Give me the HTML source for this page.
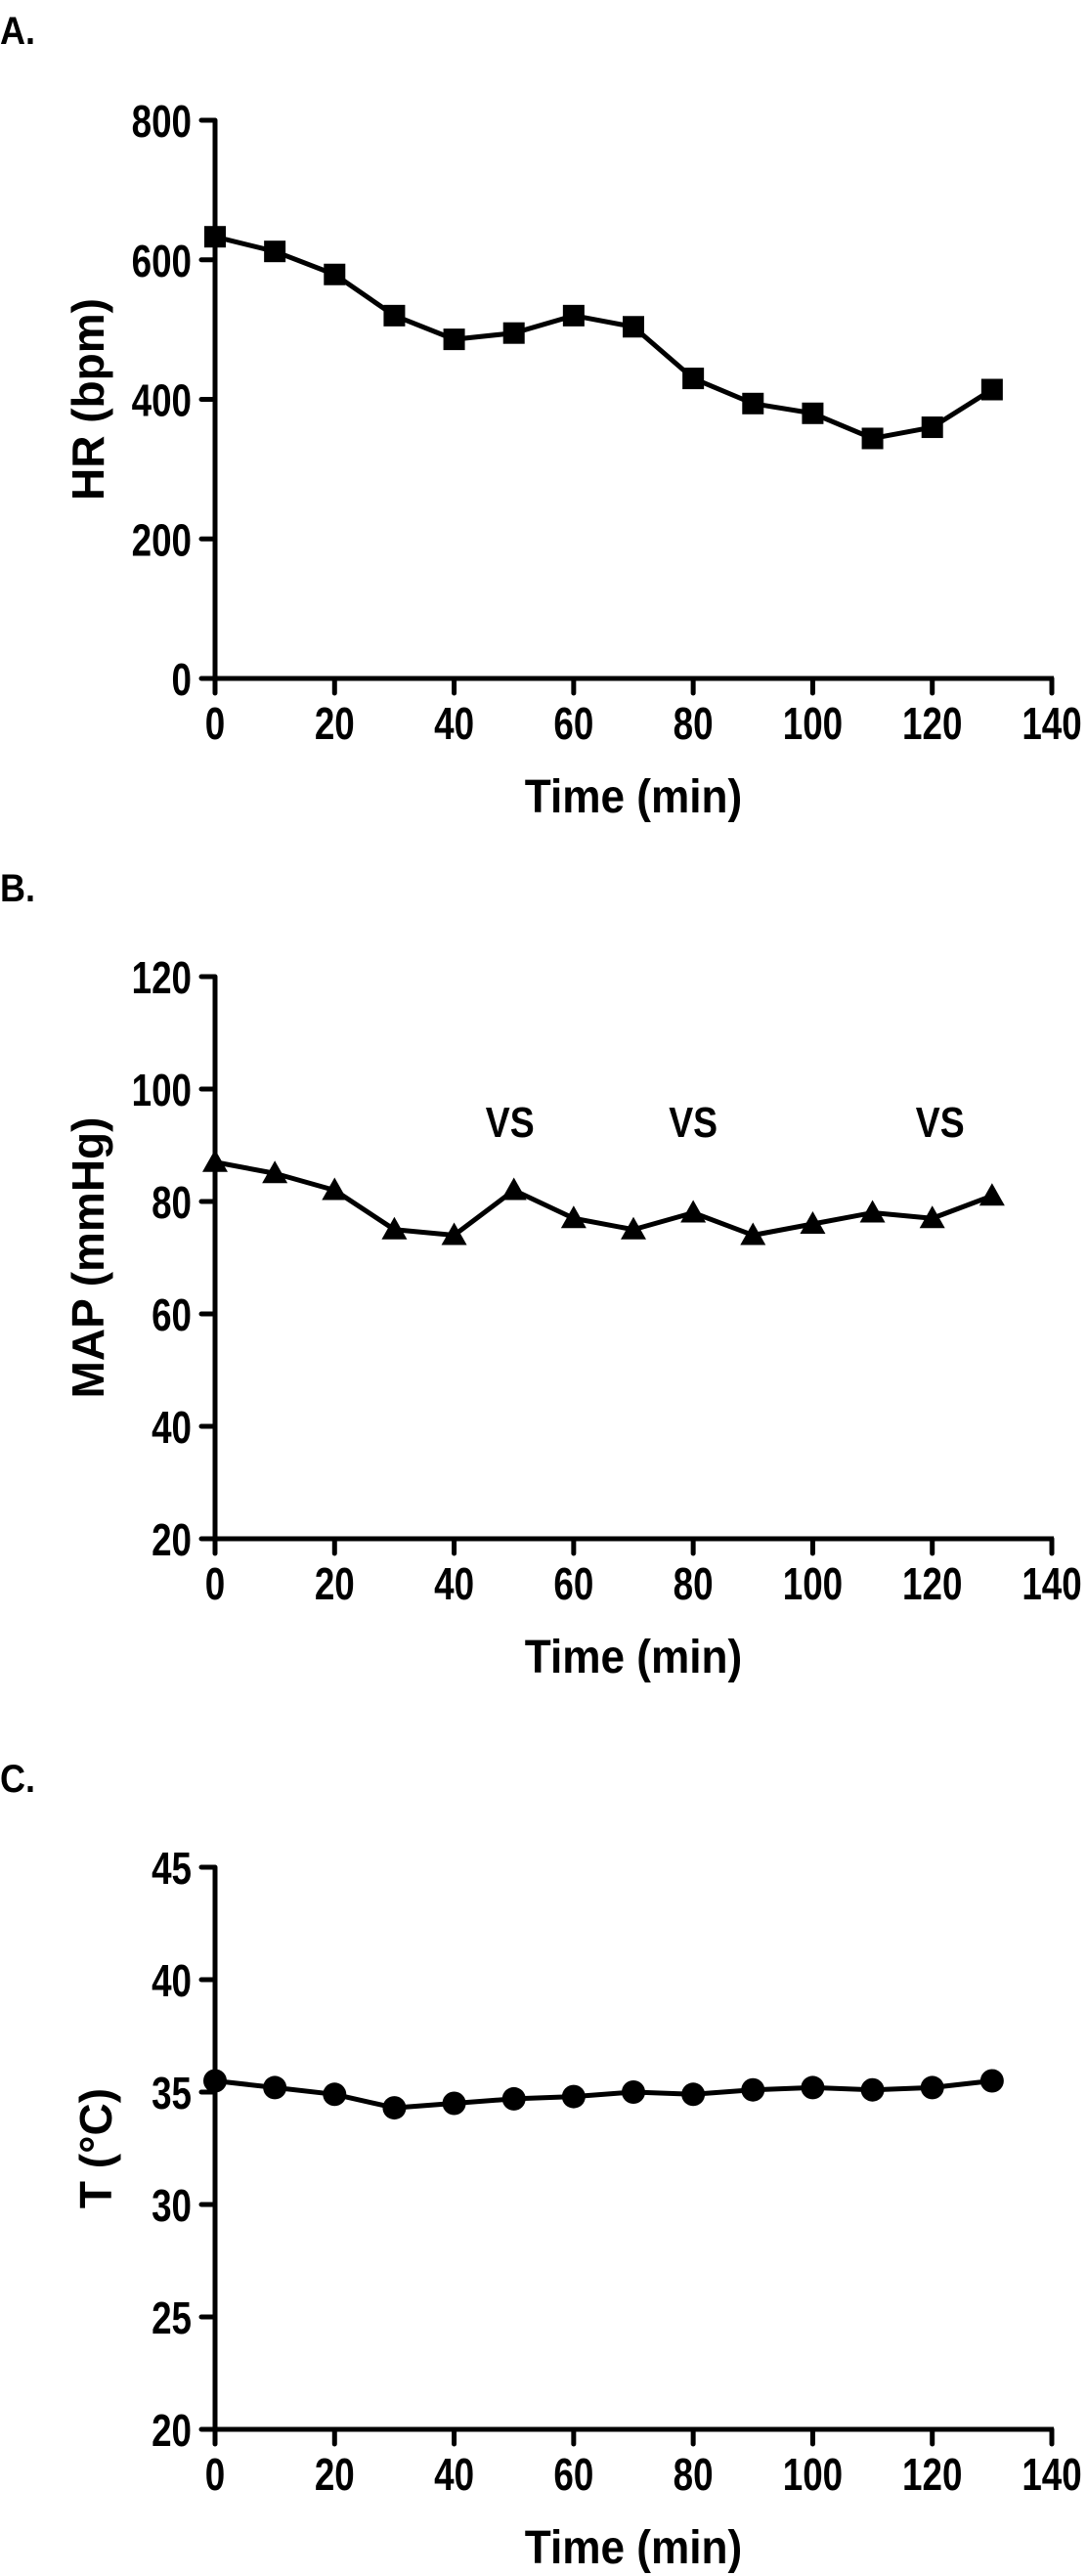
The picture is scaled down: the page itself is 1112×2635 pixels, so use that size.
<!DOCTYPE html>
<html><head><meta charset="utf-8">
<style>
html,body{margin:0;padding:0;background:#fff;}
svg{display:block;font-family:"Liberation Sans",Arial,sans-serif;font-weight:bold;}
</style></head>
<body>
<svg id="fig" width="1112" height="2635" viewBox="0 0 1112 2635" xmlns="http://www.w3.org/2000/svg"></svg>
<script>
const times = [0,10,20,30,40,50,60,70,80,90,100,110,120,130];
const hrValues = [633,612,579,520,486,495,520,504,430,394,380,344,360,414];
const mapValues = [87,85,82,75,74,82,77,75,78,74,76,78,77,81];
const tempValues = [35.5,35.2,34.9,34.3,34.5,34.7,34.8,35.0,34.9,35.1,35.2,35.1,35.2,35.5];
const xTicks = [0,20,40,60,80,100,120,140];
const hrTicks = [0,200,400,600,800];
const mapTicks = [20,40,60,80,100,120];
const tempTicks = [20,25,30,35,40,45];
const vsTimes = [50,80,120];
const vsLabels = ["VS","VS","VS"];

const NS = "http://www.w3.org/2000/svg";
const svg = document.getElementById('fig');
function mk(tag, attrs, parent){
  const e = document.createElementNS(NS, tag);
  for (const k in attrs) e.setAttribute(k, attrs[k]);
  (parent||svg).appendChild(e);
  return e;
}
function ctext(parent, x, y, size, sx, anchor, str){
  const t = mk('text', {x:0, y:0, 'font-size':size, 'text-anchor':anchor, transform:`translate(${x},${y}) scale(${sx},1)`}, parent);
  t.textContent = str;
  return t;
}
const X0 = 220, X1 = 1076, XMAX = 140;
function xs(v){ return X0 + (v/XMAX)*(X1-X0); }

function panel(cfg){
  const g = mk('g', {});
  
  
  const ymin = cfg.ticks[0], ymax = cfg.ticks[cfg.ticks.length-1];
  const ys = v => cfg.bottom - (v - ymin)/(ymax - ymin)*(cfg.bottom - cfg.top);
  const pl = ctext(g, 0, cfg.letterY, 40, 0.9, 'start', cfg.letter);
  
  
  const ya = mk('line', {x1:X0, y1:cfg.top, x2:X0, y2:cfg.bottom, stroke:'#000', 'stroke-width':5}, g);
  
  
  const xa = mk('line', {x1:X0-2, y1:cfg.bottom, x2:X1+2, y2:cfg.bottom, stroke:'#000', 'stroke-width':5}, g);
  
  
  cfg.ticks.forEach(t => {
    const y = ys(t);
    mk('line', {x1:X0-14, y1:y, x2:X0, y2:y, stroke:'#000', 'stroke-width':5, 'stroke-linecap':'round'}, g);
    const tl = ctext(g, 196, y+17, 46, 0.8, 'end', String(t));
    
    
  });
  xTicks.forEach(t => {
    const x = xs(t);
    mk('line', {x1:x, y1:cfg.bottom, x2:x, y2:cfg.bottom+15, stroke:'#000', 'stroke-width':5, 'stroke-linecap':'round'}, g);
    const tl = ctext(g, x, cfg.bottom+62, 46, 0.8, 'middle', String(t));
    
    
  });
  const xt = ctext(g, (X0+X1)/2, cfg.bottom+137, 48, 0.92, 'middle', 'Time (min)');
  
  
  const cy = (cfg.top+cfg.bottom)/2;
  const yt = mk('text', {x:cfg.titleX, y:cy, 'font-size':46, 'text-anchor':'middle', transform:`rotate(-90 ${cfg.titleX} ${cy})`}, g);
  yt.textContent = cfg.yTitle;
  
  
  const pts = times.map((t,i) => xs(t)+','+ys(cfg.values[i])).join(' ');
  const pline = mk('polyline', {points:pts, fill:'none', stroke:'#000', 'stroke-width':5, 'stroke-linejoin':'round'}, g);
  
  
  times.forEach((t,i) => {
    const x = xs(t), y = ys(cfg.values[i]);
    let m;
    if (cfg.marker === 'square') m = mk('rect', {x:x-11, y:y-11, width:22, height:22, fill:'#000'}, g);
    else if (cfg.marker === 'triangle') m = mk('polygon', {points:`${x},${y-13} ${x-13},${y+10} ${x+13},${y+10}`, fill:'#000'}, g);
    else m = mk('circle', {cx:x, cy:y, r:12, fill:'#000'}, g);
    
    
  });
  return ys;
}

panel({name:'panel-a-heart-rate', letter:'A.', letterY:45, top:123, bottom:694, ticks:hrTicks, values:hrValues, marker:'square', yTitle:'HR (bpm)', titleX:106});
panel({name:'panel-b-map', letter:'B.', letterY:922, top:999, bottom:1574, ticks:mapTicks, values:mapValues, marker:'triangle', yTitle:'MAP (mmHg)', titleX:106});
panel({name:'panel-c-temperature', letter:'C.', letterY:1833, top:1910, bottom:2485, ticks:tempTicks, values:tempValues, marker:'circle', yTitle:'T (°C)', titleX:114});

vsTimes.forEach((t,i) => {
  const v = ctext(svg, xs(t) + (i===2?8:0) - (i===0?4:0), 1163, 44, 0.85, 'middle', vsLabels[i]);
  
  
});
</script>
</body></html>
